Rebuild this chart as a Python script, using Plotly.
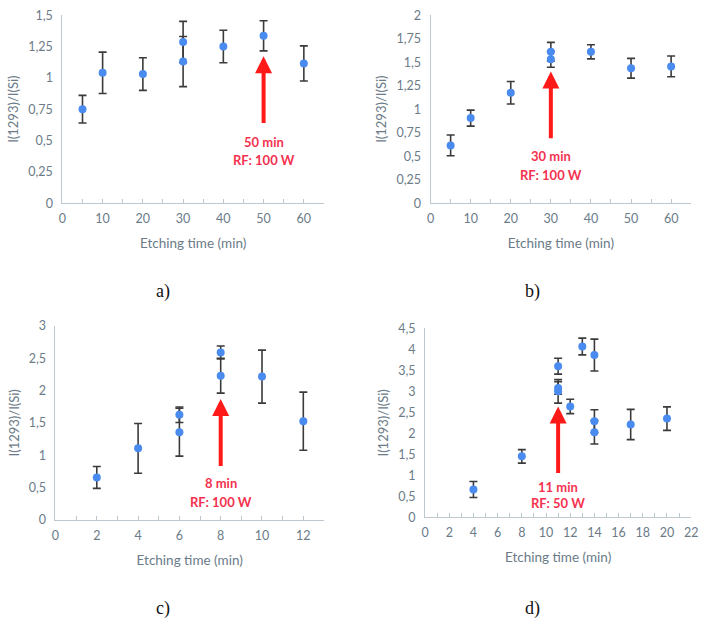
import plotly.graph_objects as go

# ---------------- data ----------------
a_x = [5, 10, 20, 30, 30, 40, 50, 60]
a_y = [0.75, 1.04, 1.03, 1.285, 1.13, 1.25, 1.335, 1.115]
a_err = [0.11, 0.165, 0.13, 0.165, 0.20, 0.13, 0.12, 0.14]

b_x = [5, 10, 20, 30, 30, 40, 50, 60]
b_y = [0.615, 0.905, 1.175, 1.61, 1.53, 1.61, 1.435, 1.455]
b_err = [0.11, 0.085, 0.12, 0.10, 0.085, 0.075, 0.105, 0.11]

c_x = [2, 4, 6, 6, 8, 8, 10, 12]
c_y = [0.655, 1.105, 1.625, 1.355, 2.59, 2.23, 2.215, 1.525]
c_err = [0.17, 0.385, 0.12, 0.37, 0.10, 0.27, 0.41, 0.45]

d_x = [4, 8, 11, 11, 11, 12, 13, 14, 14, 14, 17, 20]
d_y = [0.66, 1.45, 3.60, 3.08, 3.00, 2.64, 4.07, 3.865, 2.29, 2.025, 2.21, 2.35]
d_err = [0.19, 0.16, 0.19, 0.15, 0.28, 0.17, 0.20, 0.38, 0.27, 0.28, 0.36, 0.28]

a_yticks = ["0", "0,25", "0,5", "0,75", "1", "1,25", "1,5"]
b_yticks = ["0", "0,25", "0,5", "0,75", "1", "1,25", "1,5", "1,75", "2"]
c_yticks = ["0", "0,5", "1", "1,5", "2", "2,5", "3"]
d_yticks = ["0", "0,5", "1", "1,5", "2", "2,5", "3", "3,5", "4", "4,5"]

# arrows: x, tail y, head y ; labels
arrow_x = [50, 30, 8, 11]
arrow_tail = [0.628, 0.675, 0.81, 1.02]
arrow_head = [1.173, 1.40, 1.87, 2.64]
label_time = ["50 min", "30 min", "8 min", "11 min"]
label_rf = ["RF: 100 W", "RF: 100 W", "RF: 100 W", "RF: 50 W"]
label_time_y = [0.49, 0.497, 0.563, 0.721]
label_rf_y = [0.342, 0.30, 0.281, 0.342]

panel_names = ["a)", "b)", "c)", "d)"]

# ---------------- style ----------------
W, H = 709, 626
MARK = "#4a8bef"
ERR = "#3b3b3b"
AXC = "#bcc8d0"
TXT = "#6b7b88"
RED = "#ff1a1a"
LRED = "#f4324f"
FONT = "Lato, Open Sans, sans-serif"

panels = [
    dict(x=a_x, y=a_y, e=a_err, yt=a_yticks, ystep=0.25, xr=[0, 65], xd=10, xm=5,
         xdom=[59.3 / W, 325 / W], ydom=[1 - 200 / H, 1 - 7.3 / H]),
    dict(x=b_x, y=b_y, e=b_err, yt=b_yticks, ystep=0.25, xr=[0, 65], xd=10, xm=5,
         xdom=[433.3 / W, 698 / W], ydom=[1 - 200 / H, 1 - 7.3 / H]),
    dict(x=c_x, y=c_y, e=c_err, yt=c_yticks, ystep=0.5, xr=[0, 13], xd=2, xm=1,
         xdom=[52.3 / W, 325 / W], ydom=[1 - 524.3 / H, 1 - 325.7 / H]),
    dict(x=d_x, y=d_y, e=d_err, yt=d_yticks, ystep=0.5, xr=[0, 22], xd=2, xm=1,
         xdom=[427.7 / W, 698 / W], ydom=[1 - 521.7 / H, 1 - 328.3 / H]),
]

fig = go.Figure()
annotations = []
layout = {}
for i, p in enumerate(panels):
    sfx = "" if i == 0 else str(i + 1)
    fig.add_trace(go.Scatter(
        x=p["x"], y=p["y"], mode="markers",
        marker=dict(color=MARK, size=8),
        error_y=dict(type="data", array=p["e"], color=ERR, thickness=1.6, width=4),
        xaxis="x" + sfx, yaxis="y" + sfx, showlegend=False, hoverinfo="skip"))
    ymax = (len(p["yt"]) - 1) * p["ystep"]
    layout["xaxis" + sfx] = dict(
        domain=p["xdom"], anchor="y" + sfx, range=p["xr"], dtick=p["xd"], tick0=0,
        showgrid=False, zeroline=False, showline=True, linecolor=AXC, linewidth=1,
        ticks="inside", ticklen=4, tickcolor=AXC, ticklabelstandoff=4,
        minor=dict(dtick=p["xm"], tick0=0, ticks="inside", ticklen=4, tickcolor=AXC),
        tickfont=dict(family=FONT, size=12.5, color=TXT),
        title=dict(text="Etching time (min)", font=dict(family=FONT, size=13.5, color=TXT), standoff=13))
    layout["yaxis" + sfx] = dict(
        domain=p["ydom"], anchor="x" + sfx, range=[0, ymax],
        tickvals=[k * p["ystep"] for k in range(len(p["yt"]))], ticktext=p["yt"],
        showgrid=False, zeroline=False, showline=True, linecolor=AXC, linewidth=1,
        ticks="", ticklabelstandoff=6, tickfont=dict(family=FONT, size=12.5, color=TXT),
        title=dict(text="I(1293)/I(Si)", font=dict(family=FONT, size=13, color=TXT), standoff=6))
    xr = "x" + sfx
    yr = "y" + sfx
    annotations.append(dict(
        x=arrow_x[i], y=arrow_head[i], ax=arrow_x[i], ay=arrow_tail[i],
        xref=xr, yref=yr, axref=xr, ayref=yr, text="", showarrow=True,
        arrowhead=2, arrowsize=0.85, arrowwidth=4, arrowcolor=RED))
    annotations.append(dict(
        x=arrow_x[i], y=label_time_y[i], xref=xr, yref=yr, text="<b>" + label_time[i] + "</b>",
        showarrow=False, font=dict(family=FONT, size=13, color=LRED)))
    annotations.append(dict(
        x=arrow_x[i], y=label_rf_y[i], xref=xr, yref=yr, text="<b>" + label_rf[i] + "</b>",
        showarrow=False, font=dict(family=FONT, size=13, color=LRED)))

label_pos = [(162, 290), (537, 290), (162, 615), (537, 615)]
for name, (px, py) in zip(panel_names, label_pos):
    annotations.append(dict(
        x=px / W, y=1 - py / H, xref="paper", yref="paper", text=name, showarrow=False,
        xanchor="center", yanchor="middle",
        font=dict(family="Liberation Serif, DejaVu Serif, serif", size=18, color="#111111")))

fig.update_layout(
    width=W, height=H, margin=dict(l=0, r=0, t=0, b=0),
    paper_bgcolor="white", plot_bgcolor="white",
    annotations=annotations, **layout)

fig.write_html("out.html", config={"displayModeBar": False},
               post_script="document.body.style.margin='0';")
